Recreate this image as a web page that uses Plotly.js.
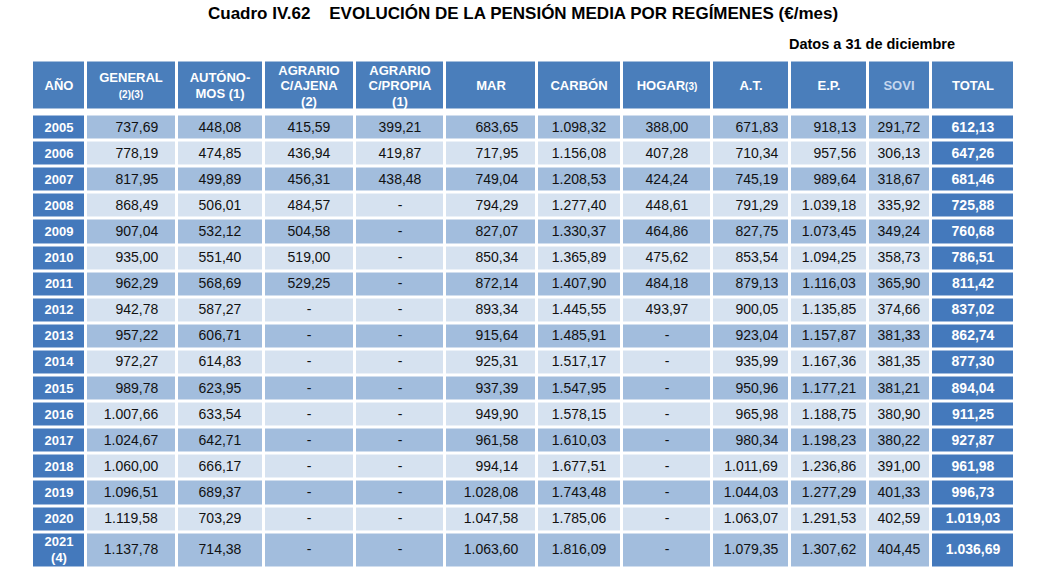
<!DOCTYPE html>
<html>
<head>
<meta charset="utf-8">
<script src="https://cdn.plot.ly/plotly-3.0.1.min.js"></script>
<style>
  body { margin: 0; background: #fff; }
  #chart { width: 1038px; height: 575px; }
</style>
</head>
<body>
<div id="chart"></div>
<script>
// Data: mean pension by regime (€/month), 31 December
const years = ["2005", "2006", "2007", "2008", "2009", "2010", "2011", "2012", "2013",
  "2014", "2015", "2016", "2017", "2018", "2019", "2020", "2021<br>(4)"];
const general = [737.69, 778.19, 817.95, 868.49, 907.04, 935.00, 962.29, 942.78, 957.22,
  972.27, 989.78, 1007.66, 1024.67, 1060.00, 1096.51, 1119.58, 1137.78];
const autonomos = [448.08, 474.85, 499.89, 506.01, 532.12, 551.40, 568.69, 587.27, 606.71,
  614.83, 623.95, 633.54, 642.71, 666.17, 689.37, 703.29, 714.38];
const agrarioAjena = [415.59, 436.94, 456.31, 484.57, 504.58, 519.00, 529.25, null, null,
  null, null, null, null, null, null, null, null];
const agrarioPropia = [399.21, 419.87, 438.48, null, null, null, null, null, null,
  null, null, null, null, null, null, null, null];
const mar = [683.65, 717.95, 749.04, 794.29, 827.07, 850.34, 872.14, 893.34, 915.64,
  925.31, 937.39, 949.90, 961.58, 994.14, 1028.08, 1047.58, 1063.60];
const carbon = [1098.32, 1156.08, 1208.53, 1277.40, 1330.37, 1365.89, 1407.90, 1445.55, 1485.91,
  1517.17, 1547.95, 1578.15, 1610.03, 1677.51, 1743.48, 1785.06, 1816.09];
const hogar = [388.00, 407.28, 424.24, 448.61, 464.86, 475.62, 484.18, 493.97, null,
  null, null, null, null, null, null, null, null];
const accTrabajo = [671.83, 710.34, 745.19, 791.29, 827.75, 853.54, 879.13, 900.05, 923.04,
  935.99, 950.96, 965.98, 980.34, 1011.69, 1044.03, 1063.07, 1079.35];
const enfProf = [918.13, 957.56, 989.64, 1039.18, 1073.45, 1094.25, 1116.03, 1135.85, 1157.87,
  1167.36, 1177.21, 1188.75, 1198.23, 1236.86, 1277.29, 1291.53, 1307.62];
const sovi = [291.72, 306.13, 318.67, 335.92, 349.24, 358.73, 365.90, 374.66, 381.33,
  381.35, 381.21, 380.90, 380.22, 391.00, 401.33, 402.59, 404.45];
const total = [612.13, 647.26, 681.46, 725.88, 760.68, 786.51, 811.42, 837.02, 862.74,
  877.30, 894.04, 911.25, 927.87, 961.98, 996.73, 1019.03, 1036.69];

const headers = ["AÑO", "GENERAL<br><sn>(2)(3)</sn>", "AUTÓNO-<br>MOS (1)",
  "AGRARIO<br>C/AJENA<br>(2)", "AGRARIO<br>C/PROPIA<br>(1)", "MAR", "CARBÓN",
  "HOGAR<sn>(3)</sn>", "A.T.", "E.P.", "SOVI", "TOTAL"];

// spanish number format: 1.098,32
function fmt(v) {
  if (v === null) return "-";
  const parts = v.toFixed(2).split(".");
  return parts[0].replace(/\B(?=(\d{3})+(?!\d))/g, ".") + "," + parts[1];
}

// layout of the grid in page pixels (column and row borders)
const colEdges = [32, 86, 176.5, 264, 354.5, 445, 536.5, 621.5, 712, 789.5, 867.5, 930.5, 1015];
const rowPitch = 26.1;
const rowEdges = [60.5, 110.5, 114.5];
for (let i = 1; i < years.length; i++) rowEdges.push(114.5 + i * rowPitch);
rowEdges.push(568);

// fill codes: 0 header, 1 blue (year/total), 2 dark stripe, 3 light stripe
const colorscale = [
  [0, "#4A7EBB"], [0.25, "#4A7EBB"],
  [0.25, "#4479BC"], [0.5, "#4479BC"],
  [0.5, "#A2BDDD"], [0.75, "#A2BDDD"],
  [0.75, "#D6E2F0"], [1, "#D6E2F0"]
];

const numCols = [general, autonomos, agrarioAjena, agrarioPropia, mar, carbon,
  hogar, accTrabajo, enfProf, sovi];
// columns printed flush right in the source
const rightAligned = [true, false, false, false, true, true, false, true, true, false];

const span = (txt, size, color, bold) =>
  '<span style="font-size:' + size + 'px;color:' + color + '">' +
  (bold ? "<b>" + txt + "</b>" : txt) + "</span>";

// right alignment inside a centred cell: invisible lead taken from the longest entry
function padded(col) {
  const strs = col.map(fmt);
  const longest = strs.reduce((a, b) => (b.length > a.length ? b : a), "");
  return strs.map(s => {
    const lead = longest.slice(0, longest.length - s.length);
    return (lead ? span(lead, 14, "rgba(0,0,0,0)", false) : "") + span(s, 14, "#111111", false);
  });
}

const colTexts = numCols.map((col, j) =>
  rightAligned[j] ? padded(col) : col.map(v => span(fmt(v), 14, "#111111", false)));

const z = [];
const text = [];
// header row
z.push(headers.map(() => 0.5));
text.push(headers.map(h => {
  const c = h === "SOVI" ? "#c4d6ee" : "#ffffff";
  const parts = h.split(/<sn>|<\/sn>/);
  if (parts.length > 1) {
    const main = parts[0].split("<br>");
    return main.map((l, k) => (l ? span(l, 13, c, true) : "") + (k === main.length - 1 ? span(parts[1], 10, c, true) : ""))
      .join("<br>");
  }
  return h.split("<br>").map(l => span(l, 13, c, true)).join("<br>");
}));
// spacer row between header and body
z.push(headers.map(() => null));
text.push(headers.map(() => ""));
// body rows
years.forEach((y, i) => {
  const code = i % 2 === 0 ? 2.5 : 3.5;
  z.push([1.5].concat(numCols.map(() => code)).concat([1.5]));
  text.push(
    [y.split("<br>").map(l => span(l, 13, "#ffffff", true)).join("<br>")]
      .concat(colTexts.map(c => c[i]))
      .concat([span(fmt(total[i]), 14, "#ffffff", true)])
  );
});

const grid = {
  type: "heatmap",
  x: colEdges,
  y: rowEdges,
  z: z,
  text: text,
  texttemplate: "%{text}",
  textfont: { family: "Liberation Sans, Arial, sans-serif", size: 12, color: "#111111" },
  zmin: 0,
  zmax: 4,
  colorscale: colorscale,
  showscale: false,
  xgap: 3,
  ygap: 3,
  hoverinfo: "skip"
};

const layout = {
  width: 1038,
  height: 575,
  margin: { l: 0, r: 0, t: 0, b: 0 },
  paper_bgcolor: "#ffffff",
  plot_bgcolor: "#ffffff",
  xaxis: { range: [0, 1038], visible: false, fixedrange: true },
  yaxis: { range: [575, 0], visible: false, fixedrange: true },
  annotations: [
    {
      text: "<b>Cuadro IV.62    EVOLUCIÓN DE LA PENSIÓN MEDIA POR REGÍMENES (€/mes)</b>",
      x: 523 / 1038, y: 1 - 14 / 575, xref: "paper", yref: "paper",
      xanchor: "center", yanchor: "middle", showarrow: false,
      font: { family: "Liberation Sans, Arial, sans-serif", size: 17, color: "#000000" }
    },
    {
      text: "<b>Datos a 31 de diciembre</b>",
      x: 957 / 1038, y: 1 - 44 / 575, xref: "paper", yref: "paper",
      xanchor: "right", yanchor: "middle", showarrow: false,
      font: { family: "Liberation Sans, Arial, sans-serif", size: 14.5, color: "#000000" }
    }
  ]
};

Plotly.newPlot("chart", [grid], layout, { staticPlot: true });
</script>
</body>
</html>
